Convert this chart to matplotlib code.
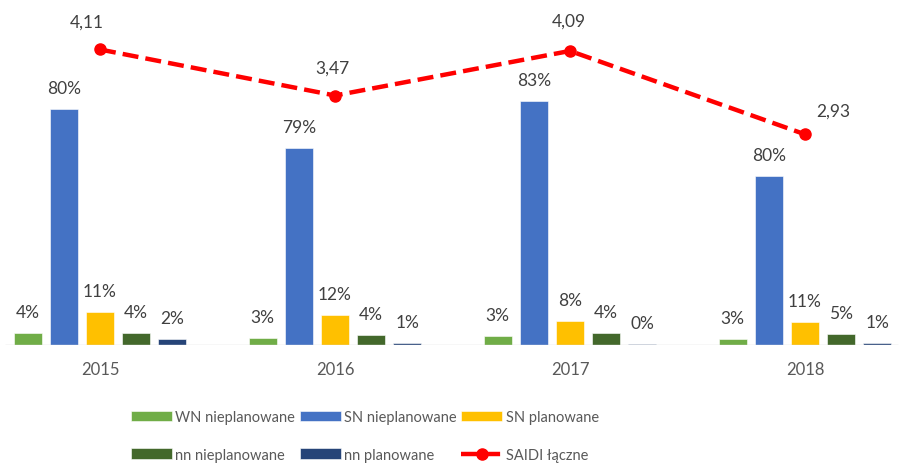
import matplotlib
matplotlib.use("Agg")
import matplotlib.pyplot as plt
import numpy as np

years = ["2015", "2016", "2017", "2018"]
saidi_total = [4.11, 3.47, 4.09, 2.93]
saidi_labels = ["4,11", "3,47", "4,09", "2,93"]
series_names = ["WN nieplanowane", "SN nieplanowane", "SN planowane",
                "nn nieplanowane", "nn planowane"]
# shares (%) of total SAIDI
share_wn_niepl = [4, 3, 3, 3]
share_sn_niepl = [80, 79, 83, 80]
share_sn_pl = [11, 12, 8, 11]
share_nn_niepl = [4, 4, 4, 5]
share_nn_pl = [2, 1, 0.4, 1]

shares = [share_wn_niepl, share_sn_niepl, share_sn_pl, share_nn_niepl, share_nn_pl]
colors = ["#70AD47", "#4472C4", "#FFC000", "#43682B", "#264478"]
line_label_offsets = [(-13, 28), (-3, 28), (-1, 30), (28, 24)]  # px

W, H = 908, 464
DPI = 100
fig = plt.figure(figsize=(W / DPI, H / DPI), dpi=DPI)
plt.rcParams['font.family'] = ['Lato', 'DejaVu Sans']

base_px = 346.0
px_per_unit = 71.9
ax = fig.add_axes([0, (H - base_px) / H, 1, base_px / H])
ax.set_ylim(0, base_px / px_per_unit)
x0_px, pitch_px = 100.0, 235.0
ax.set_xlim((0 - x0_px) / pitch_px, (W - x0_px) / pitch_px)
ax.axis("off")

x = np.arange(len(years))
bar_pitch = 36.1 / pitch_px
bar_w = 28.0 / pitch_px
lab_col = "#404040"
for k, (sh, c) in enumerate(zip(shares, colors)):
    vals = [s / 100.0 * t for s, t in zip(sh, saidi_total)]
    xs = x + (k - 2) * bar_pitch
    ax.bar(xs, vals, width=bar_w, color=c, edgecolor="white", linewidth=0.4,
           label=series_names[k], zorder=2)
    for xi, v, s in zip(xs, vals, sh):
        ax.annotate(f"{s:.0f}%", (xi, v), xytext=(0, 21), textcoords="offset pixels",
                    ha="center", va="center", fontsize=12.5, color=lab_col)

# baseline
ax.plot([(5 - x0_px) / pitch_px, (898 - x0_px) / pitch_px], [0, 0],
        color="#D9D9D9", lw=1.0, zorder=3, solid_capstyle="butt")

ln, = ax.plot(x, saidi_total, color="#FF0000", lw=3.2, dashes=(3.6, 1.6),
              dash_capstyle="butt", marker="o", markersize=8, label="SAIDI łączne",
              zorder=4)
for xi, v, t, off in zip(x, saidi_total, saidi_labels, line_label_offsets):
    ax.annotate(t, (xi, v), xytext=off, textcoords="offset pixels",
                ha="center", va="center", fontsize=12.5, color=lab_col)

for xi, yr in zip(x, years):
    ax.annotate(yr, (xi, 0), xytext=(0, -24), textcoords="offset pixels",
                ha="center", va="center", fontsize=12, color="#595959")

handles, labels = ax.get_legend_handles_labels()
hmap = dict(zip(labels, handles))
order = ["WN nieplanowane", "nn nieplanowane", "SN nieplanowane", "nn planowane",
         "SN planowane", "SAIDI łączne"]
leg = fig.legend([hmap[o] for o in order], order, ncol=3, loc="center left",
                 bbox_to_anchor=(131 / W, 1 - 437 / H), frameon=False,
                 borderpad=0, borderaxespad=0,
                 fontsize=10.5, labelcolor="#595959", handlelength=2.8,
                 handletextpad=0.25, columnspacing=0.3, labelspacing=1.6,
                 handleheight=0.7)

fig.savefig("out.png", dpi=DPI)
